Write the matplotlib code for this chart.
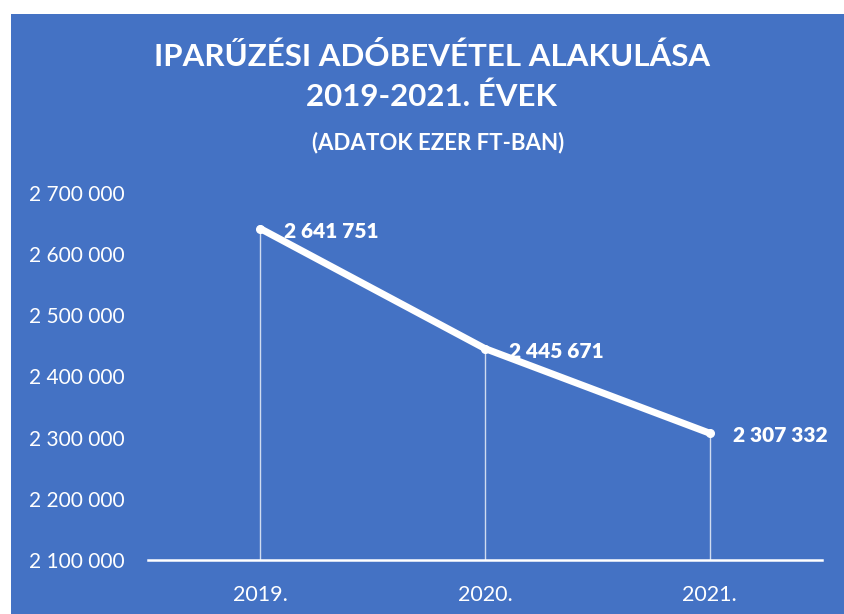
import matplotlib.pyplot as plt
from matplotlib.patches import Rectangle

# Data (ezer Ft)
years = ["2019.", "2020.", "2021."]
revenue = [2641751, 2445671, 2307332]
y_ticks = [2100000, 2200000, 2300000, 2400000, 2500000, 2600000, 2700000]

blue = "#4472C4"

def fmt(v):
    return f"{v:,}".replace(",", " ")

plt.rcParams['font.family'] = ['Lato', 'DejaVu Sans']

fig = plt.figure(figsize=(8.45, 6.14), dpi=100, facecolor="white")
# blue chart area (leaves a white strip at top and left)
fig.patches.append(Rectangle((11 / 845, 0), 1, 600 / 614, transform=fig.transFigure,
                             facecolor=blue, edgecolor="none", zorder=-5))

ax = fig.add_axes([148 / 845, 54 / 614, 674 / 845, 367 / 614])
ax.set_facecolor("none")
ax.set_zorder(2)

x = list(range(len(years)))

# drop lines
ax.vlines(x, y_ticks[0], revenue, colors="white", linewidth=1, alpha=0.75, zorder=2)
ax.plot(x, revenue, color="white", linewidth=5, solid_capstyle="round",
        marker="o", markersize=5.5, zorder=3, clip_on=False)

for xi, v in zip(x, revenue):
    ax.annotate(fmt(v), (xi, v), xytext=(17, -2), textcoords="offset points",
                color="white", fontsize=15, fontweight="heavy", va="center", ha="left")

ax.set_xlim(-0.5, 2.5)
ax.set_ylim(y_ticks[0], y_ticks[-1])
ax.set_yticks(y_ticks)
ax.set_yticklabels([fmt(t) for t in y_ticks])
ax.set_xticks(x)
ax.set_xticklabels(years)

for s in ["top", "right", "left"]:
    ax.spines[s].set_visible(False)
ax.spines["bottom"].set_color("white")
ax.spines["bottom"].set_linewidth(1.8)
ax.tick_params(axis="both", length=0, colors="white")
ax.tick_params(axis="y", pad=17, labelsize=15)
ax.tick_params(axis="x", pad=18, labelsize=15.5)

fig.text(0.511, 1 - 56 / 614, "IPARŰZÉSI ADÓBEVÉTEL ALAKULÁSA",
         ha="center", va="center", color="white", fontsize=22.5, fontweight="bold")
fig.text(0.511, 1 - 97 / 614, "2019-2021. ÉVEK",
         ha="center", va="center", color="white", fontsize=22.5, fontweight="bold")
fig.text(0.519, 1 - 143 / 614, "(ADATOK EZER FT-BAN)", ha="center", va="center",
         color="white", fontsize=16, fontweight="bold")

fig.savefig("out.png", dpi=100, facecolor="white")
